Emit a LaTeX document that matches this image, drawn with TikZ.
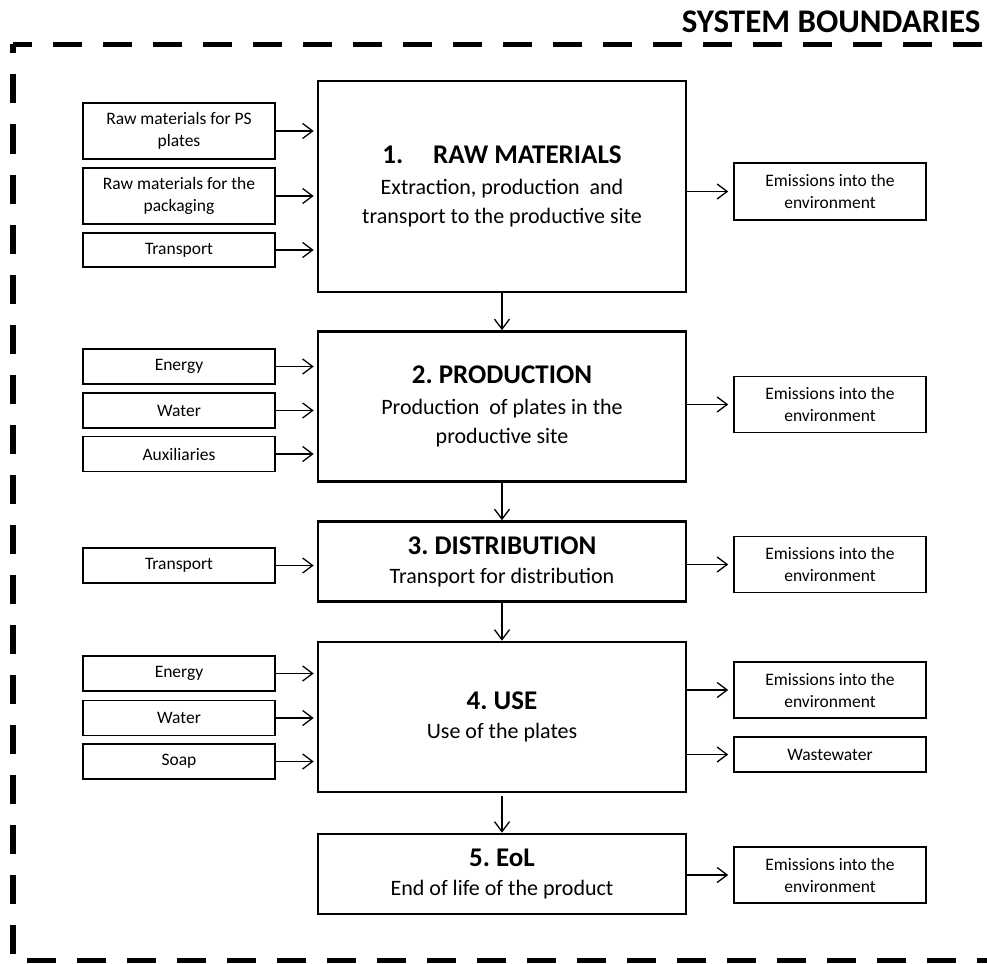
\documentclass[tikz,border=0pt]{standalone}
\usepackage{fontspec}
\setmainfont{Carlito}
\usetikzlibrary{arrows.meta}
\frenchspacing

\begin{document}
\begin{tikzpicture}[x=1pt, y=-1pt,
		stagebox/.style={draw, line width=2.6pt, minimum width=368pt, inner sep=0pt, align=center, font=\fontsize{22}{29}\selectfont},
		inbox/.style={draw, line width=1.6pt, minimum width=192pt, inner sep=0pt, align=center, font=\fontsize{17.5}{22}\selectfont},
		flow/.style={line width=1.3pt, -{Straight Barb[length=10pt,width=15pt]}},
		boundary/.style={line width=5.5pt, dash pattern=on 29pt off 21pt}]
		\useasboundingbox (0,0) rectangle (987,963);
		% system boundary
		\draw[boundary, dash phase=10pt] (13,44.5) -- (995,44.5);
		\draw[boundary, dash phase=20pt] (13,44.5) -- (13,960.5) -- (995,960.5);
		\node[anchor=base east, font=\fontsize{33}{36}\selectfont\bfseries] (title) at (984,33) {SYSTEM BOUNDARIES};
		% life cycle stages
		\node[stagebox, minimum height=211pt] (raw) at (502,186.5) {{\fontsize{27}{32}\selectfont\bfseries 1.\hspace{30pt}RAW MATERIALS}\\[2pt] Extraction, production\ \ and\\ transport to the productive site};
		\node[stagebox, minimum height=150pt] (prod) at (502,406.5) {{\fontsize{27}{32}\selectfont\bfseries 2. PRODUCTION}\\[2pt] Production\ \ of plates in the\\ productive site};
		\node[stagebox, minimum height=80pt] (dist) at (502,561.5) {{\fontsize{27}{32}\selectfont\bfseries 3. DISTRIBUTION}\\ Transport for distribution};
		\node[stagebox, minimum height=150pt] (use) at (502,717) {{\fontsize{27}{32}\selectfont\bfseries 4. USE}\\ Use of the plates};
		\node[stagebox, minimum height=80pt] (eol) at (502,874) {{\fontsize{27}{32}\selectfont\bfseries 5. EoL}\\ End of life of the product};
		% inputs
		\node[inbox, minimum height=56pt] (rawA) at (179,131) {Raw materials for PS\\ plates};
		\node[inbox, minimum height=56pt] (rawB) at (179,196) {Raw materials for the\\ packaging};
		\node[inbox, minimum height=34pt] (rawT) at (179,250) {Transport};
		\node[inbox, minimum height=35pt] (prodE) at (179,366.5) {Energy};
		\node[inbox, minimum height=35pt] (prodW) at (179,410.5) {Water};
		\node[inbox, minimum height=35pt] (prodX) at (179,454) {Auxiliaries};
		\node[inbox, minimum height=35pt] (distT) at (179,565.5) {Transport};
		\node[inbox, minimum height=35pt] (useE) at (179,673.5) {Energy};
		\node[inbox, minimum height=35pt] (useW) at (179,718) {Water};
		\node[inbox, minimum height=35pt] (useS) at (179,761.5) {Soap};
		% outputs
		\node[inbox, minimum height=57pt] (emRaw) at (830,191.5) {Emissions into the\\ environment};
		\node[inbox, minimum height=56pt] (emProd) at (830,404.5) {Emissions into the\\ environment};
		\node[inbox, minimum height=56pt] (emDist) at (830,564.5) {Emissions into the\\ environment};
		\node[inbox, minimum height=56pt] (emUse) at (830,690) {Emissions into the\\ environment};
		\node[inbox, minimum height=35pt] (wasteUse) at (830,754.5) {Wastewater};
		\node[inbox, minimum height=56pt] (emEol) at (830,875) {Emissions into the\\ environment};
		% flows between stages
		\draw[flow] (raw) -- (prod);
		\draw[flow] (prod) -- (dist);
		\draw[flow] (dist) -- (use);
		\draw[flow, shorten <=3pt] (use) -- (eol);
		% flows in
		\draw[flow, shorten >=3pt] (rawA.east) -- (rawA.east -| raw.west);
		\draw[flow, shorten >=3pt] (rawB.east) -- (rawB.east -| raw.west);
		\draw[flow, shorten >=3pt] (rawT.east) -- (rawT.east -| raw.west);
		\draw[flow, shorten >=3pt] (prodE.east) -- (prodE.east -| prod.west);
		\draw[flow, shorten >=3pt] (prodW.east) -- (prodW.east -| prod.west);
		\draw[flow, shorten >=3pt] (prodX.east) -- (prodX.east -| prod.west);
		\draw[flow, shorten >=3pt] (distT.east) -- (distT.east -| dist.west);
		\draw[flow, shorten >=3pt] (useE.east) -- (useE.east -| use.west);
		\draw[flow, shorten >=3pt] (useW.east) -- (useW.east -| use.west);
		\draw[flow, shorten >=3pt] (useS.east) -- (useS.east -| use.west);
		% flows out
		\draw[flow, shorten >=5pt] (raw.east |- emRaw.west) -- (emRaw.west);
		\draw[flow, shorten >=5pt] (prod.east |- emProd.west) -- (emProd.west);
		\draw[flow, shorten >=5pt] (dist.east |- emDist.west) -- (emDist.west);
		\draw[flow, shorten >=5pt] (use.east |- emUse.west) -- (emUse.west);
		\draw[flow, shorten >=5pt] (use.east |- wasteUse.west) -- (wasteUse.west);
		\draw[flow, shorten >=5pt] (eol.east |- emEol.west) -- (emEol.west);
	\end{tikzpicture}
\end{document}
